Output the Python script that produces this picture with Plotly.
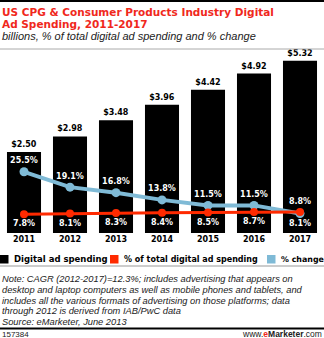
import plotly.graph_objects as go

years = ["2011", "2012", "2013", "2014", "2015", "2016", "2017"]
spending = [2.50, 2.98, 3.48, 3.96, 4.42, 4.92, 5.32]
share = [7.8, 8.1, 8.3, 8.4, 8.5, 8.7, 8.8]
change = [25.5, 19.1, 16.8, 13.8, 11.5, 11.5, 8.1]

spend_labels = ["$%.2f" % v for v in spending]
share_labels = ["%.1f%%" % v for v in share]
change_labels = ["%.1f%%" % v for v in change]

W, H = 324, 338
T, B, L, R = 50, 105, 1, 1
PH = H - T - B
PW = W - L - R
BOT = H - B


def py(y):
    return (BOT - y) / PH


def px(x):
    return (x - L) / PW


RED = "#ff2a00"
BLUE = "#7fbad6"
TITLE_RED = "#f0281c"
BOLD = "DejaVu Sans"

fig = go.Figure()
fig.add_trace(go.Bar(
    x=years, y=spending, marker=dict(color="black", line=dict(width=0)),
    text=spend_labels, textposition="outside", cliponaxis=False,
    textfont=dict(family=BOLD, size=8, color="black", weight="bold"),
    showlegend=False, name="Digital ad spending"))

share_pos = ["bottom center"] * 6 + ["top center"]
change_pos = ["top center"] * 6 + ["bottom center"]

fig.add_trace(go.Scatter(
    x=years, y=change, yaxis="y2", mode="lines+markers+text",
    line=dict(color=BLUE, width=4), marker=dict(color=BLUE, size=9),
    text=change_labels, textposition=change_pos, cliponaxis=False,
    textfont=dict(family=BOLD, size=8, color="white", weight="bold"),
    showlegend=False, name="% change"))
fig.add_trace(go.Scatter(
    x=years, y=share, yaxis="y2", mode="lines+markers+text",
    line=dict(color=RED, width=3), marker=dict(color=RED, size=8),
    text=share_labels, textposition=share_pos, cliponaxis=False,
    textfont=dict(family=BOLD, size=8, color="white", weight="bold"),
    showlegend=False, name="% of total digital ad spending"))

ann = []
ann.append(dict(text="<b>US CPG & Consumer Products Industry Digital</b>", x=px(0), y=py(12),
                xanchor="left", yanchor="middle",
                font=dict(family=BOLD, size=10.5, color=TITLE_RED)))
ann.append(dict(text="<b>Ad Spending, 2011-2017</b>", x=px(0), y=py(24),
                xanchor="left", yanchor="middle",
                font=dict(family=BOLD, size=10.5, color=TITLE_RED)))
ann.append(dict(text="<i>billions, % of total digital ad spending and % change</i>", x=px(0), y=py(36),
                xanchor="left", yanchor="middle",
                font=dict(family="Liberation Sans", size=11, color="#222")))

legend_items = [(0, "black", "Digital ad spending", 8.5),
                (110, RED, "% of total digital ad spending", 8.0),
                (267, BLUE, "% change", 7.9)]
shapes = []
for x0, col, lab, fs in legend_items:
    shapes.append(dict(type="rect", xref="paper", yref="paper",
                       x0=px(x0), x1=px(x0 + 8.5), y0=py(263.5), y1=py(255),
                       fillcolor=col, line=dict(width=0)))
    ann.append(dict(text="<b>%s</b>" % lab, x=px(x0 + 11.5), y=py(259), xanchor="left", yanchor="middle",
                    font=dict(family=BOLD, size=fs, color="black")))

note_lines = [
    "Note: CAGR (2012-2017)=12.3%; includes advertising that appears on",
    "desktop and laptop computers as well as mobile phones and tablets, and",
    "includes all the various formats of advertising on those platforms; data",
    "through 2012 is derived from IAB/PwC data",
    "Source: eMarketer, June 2013",
]
for i, ln in enumerate(note_lines):
    ann.append(dict(text="<i>%s</i>" % ln, x=px(0), y=py(279 + i * 10.8), xanchor="left", yanchor="middle",
                    font=dict(family="Liberation Sans", size=9.3, color="#222")))

ann.append(dict(text="157384", x=px(0), y=py(334), xanchor="left", yanchor="middle",
                font=dict(family="Liberation Sans", size=8, color="#222")))
ann.append(dict(text="www.<b><span style='color:%s'>e</span>Marketer</b>.com" % TITLE_RED,
                x=px(324), y=py(334), xanchor="right", yanchor="middle",
                font=dict(family="Liberation Sans", size=8.5, color="#222")))
for a in ann:
    a.update(xref="paper", yref="paper", showarrow=False)

shapes += [
    dict(type="rect", xref="paper", yref="paper", x0=px(0), x1=px(324), y0=py(2), y1=py(0),
         fillcolor="black", line=dict(width=0)),
    dict(type="line", xref="paper", yref="paper", x0=px(0), x1=px(324), y0=py(49), y1=py(49),
         line=dict(color="#aaaaaa", width=1)),
    dict(type="line", xref="paper", yref="paper", x0=px(0), x1=px(324), y0=py(266), y1=py(266),
         line=dict(color="#999999", width=1)),
    dict(type="rect", xref="paper", yref="paper", x0=px(0), x1=px(324), y0=py(329.5), y1=py(327.5),
         fillcolor="black", line=dict(width=0)),
]

fig.update_layout(
    width=W, height=H, margin=dict(l=L, r=R, t=T, b=B),
    paper_bgcolor="white", plot_bgcolor="white",
    bargap=0.26, showlegend=False,
    xaxis=dict(type="category", range=[-0.5, 6.5], showgrid=False, zeroline=False, showline=False,
               ticks="", tickfont=dict(family=BOLD, size=8, color="black", weight="bold"), fixedrange=True),
    yaxis=dict(range=[0, PH / 32.4], visible=False, showgrid=False, fixedrange=True),
    yaxis2=dict(range=[0, PH / 2.4], visible=False, overlaying="y", showgrid=False, fixedrange=True),
    annotations=ann, shapes=shapes,
)

fig.write_html("out.html", config={"displayModeBar": False})
